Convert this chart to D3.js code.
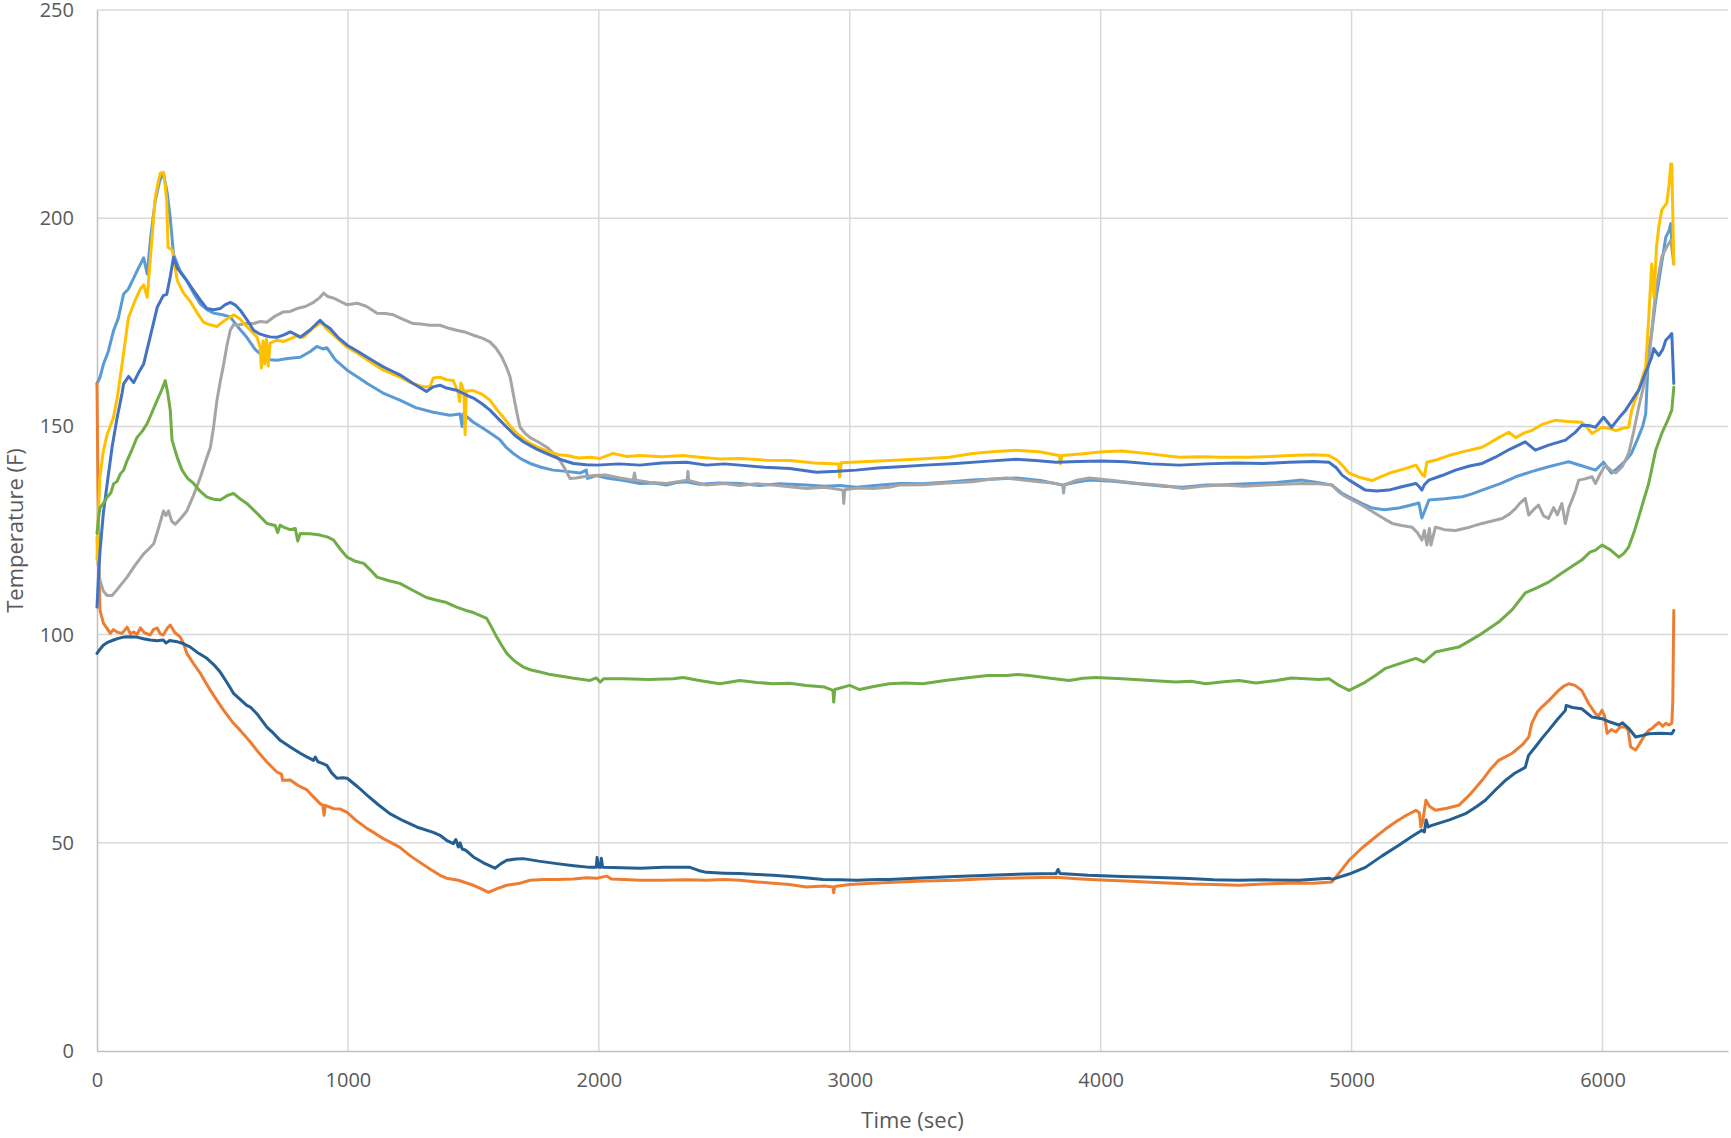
<!DOCTYPE html>
<html>
<head>
<meta charset="utf-8">
<script src="https://cdn.jsdelivr.net/npm/d3@7"></script>
<style>
  body { margin: 0; background: #fff; }
  svg text { font-family: "Open Sans", "Noto Sans", sans-serif; fill: #595959; }
</style>
</head>
<body>
<div id="chart"></div>
<script>
// Data (time in sec, temperature in F)

var xTicks = [0, 1000, 2000, 3000, 4000, 5000, 6000];
var yTicks = [0, 50, 100, 150, 200, 250];

var lightBlue = [[0,160.3],[12,161.8],[26,165],[45,168],[66,173],[85,176],[106,181.8],[125,183],[146,185.6],[165,188],[186,190.5],[200,186.6],[215,196],[232,204.2],[250,209],[265,210.8],[280,206],[292,200],[305,191.3],[330,187.5],[358,185],[385,182],[412,179.4],[440,178],[465,177.2],[500,176.8],[531,176.3],[560,174],[597,171.4],[630,168.5],[664,166.7],[690,166],[717,165.9],[760,166.3],[810,166.6],[850,168],[876,169.2],[900,168.6],[916,168.9],[950,166],[997,163.5],[1040,161.8],[1077,160.3],[1140,158],[1207,156.3],[1270,154.5],[1340,153.4],[1406,152.7],[1447,153],[1455,150],[1460,153],[1500,151],[1540,149.5],[1570,148.3],[1606,146.8],[1630,145],[1659,143.5],[1690,142.2],[1726,141.1],[1770,140.2],[1818,139.5],[1870,139.2],[1925,138.8],[1950,139.5],[1955,137.5],[1990,138.2],[2031,137.6],[2100,137],[2164,136.3],[2220,136.4],[2270,135.9],[2310,136.5],[2349,136.7],[2400,136.1],[2480,136.4],[2562,136.3],[2640,135.8],[2720,136.2],[2827,135.9],[2900,135.6],[2960,135.8],[3026,135.4],[3100,135.8],[3198,136.3],[3290,136.2],[3380,136.6],[3489,137.1],[3560,137.3],[3663,137.6],[3760,137],[3849,135.9],[3900,136.6],[3955,137.1],[4050,136.8],[4150,136.2],[4250,135.6],[4327,135.4],[4420,135.9],[4485,135.9],[4580,136.2],[4700,136.5],[4803,137.1],[4870,136.5],[4922,135.9],[4962,133.9],[4990,133],[5040,131.5],[5082,130.4],[5130,130],[5188,130.4],[5230,131],[5268,131.6],[5280,128],[5290,129.5],[5308,132.3],[5370,132.6],[5441,133.1],[5480,133.8],[5520,134.7],[5590,136.2],[5654,137.9],[5720,139.2],[5785,140.3],[5830,141],[5865,141.5],[5920,140.5],[5972,139.5],[6004,141.4],[6020,140],[6036,138.8],[6060,140],[6092,141.8],[6115,143.5],[6140,147],[6160,150],[6172,153],[6184,168.3],[6195,172],[6212,180.3],[6230,187],[6252,195.4],[6265,197],[6272,198.7],[6276,193.9]];

var orange = [[0,160.3],[3,140],[8,115],[12,105.8],[26,102.7],[40,101.5],[53,100.3],[66,101.2],[80,100.6],[100,100.3],[120,101.8],[133,100.2],[146,100.6],[160,100.1],[173,101.6],[190,100.4],[212,99.9],[225,101.2],[240,101.6],[252,100.2],[264,99.9],[280,101.5],[292,102.3],[310,100.5],[332,99.4],[345,97.8],[358,95.5],[385,93],[412,90.7],[430,88.8],[452,86.6],[478,84.2],[505,81.8],[544,78.7],[571,77],[611,74.2],[645,71.6],[677,69.4],[717,67],[735,66.5],[740,65],[770,65.1],[800,63.8],[837,62.7],[860,61.2],[889,59.4],[900,59],[905,56.6],[910,59],[943,58.2],[970,58.1],[997,57.3],[1030,55.5],[1077,53.4],[1110,52.2],[1141,51],[1170,50.1],[1207,48.9],[1250,46.8],[1287,45.3],[1330,43.6],[1367,42.2],[1393,41.5],[1440,41],[1500,39.8],[1530,39],[1560,38.1],[1595,39],[1633,39.8],[1680,40.2],[1726,41],[1780,41.2],[1832,41.2],[1900,41.3],[1950,41.6],[1992,41.5],[2031,42],[2050,41.3],[2100,41.2],[2164,41],[2250,41],[2350,41.1],[2429,41],[2500,41.2],[2562,41],[2630,40.6],[2695,40.3],[2760,40],[2827,39.4],[2900,39.6],[2933,39.4],[2936,38],[2940,39.5],[3000,40],[3092,40.3],[3198,40.6],[3300,40.8],[3424,41],[3520,41.3],[3623,41.5],[3720,41.6],[3822,41.7],[3920,41.3],[4022,41],[4100,40.8],[4200,40.5],[4352,40.1],[4450,40],[4551,39.8],[4650,40.1],[4750,40.3],[4850,40.3],[4922,40.6],[4960,43.5],[4990,45.8],[5040,48.7],[5095,51.4],[5135,53.3],[5175,55],[5215,56.5],[5256,57.8],[5270,57.2],[5276,53.8],[5283,55],[5296,60.2],[5310,58.8],[5334,57.8],[5380,58.3],[5427,59],[5470,61.5],[5520,65],[5550,67.4],[5586,69.8],[5640,71.5],[5680,73.5],[5706,75.4],[5718,78.7],[5740,81.4],[5758,82.6],[5790,84.4],[5825,86.6],[5845,87.6],[5865,88.2],[5890,87.8],[5917,86.6],[5945,83.4],[5972,81],[5985,80.5],[5998,81.8],[6008,80.5],[6018,76.3],[6035,77.2],[6053,76.6],[6070,77.8],[6092,77.8],[6102,77],[6112,73],[6132,72.3],[6150,74],[6170,76],[6184,77],[6198,77.5],[6212,78.3],[6225,78.9],[6240,78],[6252,78.7],[6265,78.3],[6276,78.7],[6280,84],[6284,105.8]];

var gray = [[0,123.4],[4,117],[12,113],[25,110.5],[40,109.4],[60,109.4],[80,110.8],[100,112.3],[120,113.8],[150,116.5],[186,119.4],[205,120.5],[226,121.8],[245,125.5],[265,129.7],[275,128.6],[285,129.7],[298,127.2],[312,126.5],[335,128],[358,129.7],[385,133.5],[412,137.8],[432,141.5],[452,145],[465,150],[478,156.3],[492,161],[505,165],[518,169.5],[531,173.1],[545,174.5],[558,174.3],[590,174.7],[624,174.7],[650,175.2],[677,175],[710,176.5],[743,177.5],[770,177.6],[797,178.3],[830,178.8],[863,179.8],[885,180.8],[903,182],[920,181.2],[943,180.8],[970,180],[997,179.2],[1037,179.6],[1075,178.8],[1116,177.2],[1150,177.1],[1181,176.8],[1220,175.7],[1260,174.7],[1290,174.6],[1327,174.3],[1367,174.3],[1406,173.5],[1433,173.1],[1470,172.6],[1500,171.9],[1535,171.2],[1566,170.3],[1590,168.8],[1613,166.7],[1630,164.5],[1646,161.9],[1656,158.8],[1666,155.5],[1676,152.5],[1686,149.8],[1705,148.4],[1726,147.3],[1760,146.2],[1793,145],[1820,143.5],[1845,141.8],[1865,139.8],[1885,137.5],[1910,137.6],[1938,137.9],[1980,138.2],[2031,138.3],[2085,137.6],[2137,137.1],[2142,138.8],[2147,137.1],[2200,136.6],[2270,136.3],[2320,136.8],[2352,137.1],[2355,139.2],[2358,137],[2429,135.9],[2500,136.3],[2560,135.8],[2630,136.2],[2695,135.9],[2760,135.5],[2827,135.1],[2900,135.4],[2973,134.7],[2976,131.5],[2980,134.8],[3030,135.2],[3092,135.1],[3158,135.4],[3198,135.9],[3290,136],[3390,136.4],[3489,136.7],[3560,137.3],[3623,137.6],[3690,137.1],[3755,136.7],[3810,136.4],[3849,135.9],[3852,134],[3856,136],[3900,137],[3955,137.6],[4050,137],[4150,136.3],[4250,135.8],[4327,135.1],[4400,135.6],[4485,135.9],[4570,135.6],[4680,136],[4803,136.3],[4870,136.2],[4922,135.9],[4950,134.2],[4977,133.1],[5029,131.5],[5060,130.4],[5095,129.1],[5130,127.8],[5162,126.7],[5200,126.2],[5241,125.8],[5262,124.5],[5280,122.7],[5290,125],[5300,121.5],[5310,125.5],[5316,121.5],[5334,125.8],[5370,125.2],[5414,125],[5470,125.8],[5520,126.7],[5560,127.3],[5600,127.9],[5630,129],[5654,130.3],[5670,131.5],[5692,132.7],[5706,128.7],[5725,130],[5745,131.1],[5765,128.5],[5785,127.9],[5805,130.5],[5820,128.8],[5838,131.5],[5852,126.7],[5866,130.5],[5878,132.3],[5892,134.5],[5905,137.1],[5930,137.4],[5958,137.9],[5972,136.3],[5990,138.5],[6011,140.7],[6030,139.6],[6053,138.8],[6078,140.3],[6104,143.5],[6125,149],[6144,154.6],[6165,160],[6184,165.2],[6198,174],[6212,182.7],[6236,190.7],[6255,193],[6272,194.7],[6284,189]];

var yellow = [[0,118],[6,130],[12,138],[25,144],[40,148],[65,152],[81,157],[100,165],[125,176],[150,180],[173,183],[186,184],[200,181],[215,192],[232,205],[245,209],[252,210.8],[265,211],[272,208],[278,204],[283,193],[300,192.3],[320,185],[345,182],[372,180],[400,177.2],[425,175],[450,174.4],[478,174],[510,175.5],[545,176.8],[570,175.8],[597,174],[638,171.4],[650,169],[655,164],[662,170.5],[668,165],[675,171],[682,164.5],[690,170],[717,170.7],[745,170.4],[770,171],[800,171.8],[823,171.4],[860,173.6],[896,175],[915,173.4],[929,172.7],[960,171],[997,169],[1040,167.5],[1077,166],[1110,164.7],[1141,163.5],[1175,162.7],[1207,161.8],[1250,160.5],[1300,159.5],[1327,159.5],[1340,161.6],[1367,161.8],[1393,161.2],[1420,161],[1440,158],[1445,156],[1450,160.4],[1462,158.5],[1467,148],[1472,158.5],[1500,158.6],[1535,157.7],[1566,156.3],[1590,154.3],[1619,152.2],[1645,150.2],[1674,148.3],[1700,147],[1726,145.9],[1765,144.8],[1806,143.8],[1840,143.2],[1873,143],[1920,142.4],[1965,142.6],[2005,142.3],[2057,143.5],[2110,142.8],[2164,143],[2250,142.7],[2335,143],[2400,142.6],[2480,142.2],[2562,142.3],[2660,141.9],[2761,141.8],[2860,141.2],[2955,141],[2960,137.8],[2966,141.3],[3050,141.5],[3158,141.8],[3280,142.2],[3397,142.6],[3489,143.5],[3580,144],[3663,144.3],[3755,143.9],[3835,143],[3840,141],[3845,143],[3920,143.4],[4006,143.9],[4086,144.1],[4200,143.4],[4313,142.6],[4400,142.7],[4485,142.6],[4591,142.6],[4680,142.8],[4750,143],[4850,143.2],[4910,143],[4940,142],[4962,140.7],[4990,138.8],[5030,137.8],[5082,137],[5120,138],[5162,139],[5210,139.8],[5256,140.7],[5283,138.3],[5290,138],[5300,141.4],[5340,142],[5387,143],[5450,144],[5520,145],[5550,146],[5586,147.3],[5626,148.6],[5654,147.3],[5690,148.5],[5718,149],[5760,150.5],[5813,151.5],[5860,151.2],[5917,151],[5940,149.6],[5958,148.3],[5998,149.8],[6030,149.5],[6053,149],[6078,149.5],[6104,149.8],[6116,153.9],[6144,158.7],[6160,162],[6172,164.3],[6184,176],[6196,189],[6205,181],[6215,193],[6224,197.8],[6236,202],[6256,203.6],[6265,208],[6272,213],[6276,213],[6284,189]];

var blue = [[0,106.6],[6,114],[12,120],[25,129],[40,136],[60,145],[80,152],[100,158],[106,160.2],[126,162],[146,160.5],[165,162.8],[186,165],[210,171],[240,178.6],[264,181.4],[278,181.7],[292,186],[305,190.6],[320,188],[340,186.4],[358,185],[385,182.6],[412,180.3],[438,178.3],[465,178],[491,178.3],[510,179.2],[531,179.8],[550,179.2],[571,177.9],[600,175.4],[624,173.1],[645,172.3],[664,171.9],[690,171.5],[717,171.4],[745,172],[770,172.7],[790,172.1],[810,171.4],[850,173.2],[889,175.5],[905,174.5],[929,173.5],[960,171.4],[997,169.5],[1040,168],[1077,166.6],[1110,165.4],[1141,164.3],[1175,163.3],[1207,162.4],[1260,160.3],[1313,158.4],[1340,159.5],[1367,159.9],[1393,159.2],[1433,158.7],[1470,157.6],[1500,156.8],[1533,155.5],[1566,153.9],[1600,151.8],[1633,149.8],[1666,147.8],[1699,146.3],[1750,144.6],[1806,143.1],[1850,142],[1899,141.1],[1950,140.8],[1992,140.7],[2080,141],[2164,140.7],[2250,141.2],[2349,141.4],[2429,140.7],[2500,141],[2562,140.7],[2660,140.2],[2761,139.9],[2867,139],[2950,139.2],[3026,139.5],[3110,140],[3198,140.3],[3300,140.7],[3424,141.1],[3540,141.6],[3663,142.1],[3740,141.8],[3822,141.4],[3910,141.6],[4006,141.7],[4100,141.5],[4200,141],[4313,140.7],[4420,141],[4540,141.2],[4650,141.1],[4750,141.4],[4850,141.6],[4910,141.4],[4940,140],[4962,138.3],[4990,137.1],[5055,134.7],[5100,134.5],[5148,134.7],[5200,135.5],[5256,136.3],[5270,135.5],[5280,134.7],[5290,136],[5308,137.1],[5360,138.2],[5414,139.5],[5470,140.5],[5520,141.1],[5573,142.6],[5630,144.5],[5692,146.3],[5732,144.3],[5785,145.5],[5852,146.7],[5890,148.5],[5917,150.3],[5945,150.2],[5972,149.8],[6004,152.2],[6036,149.8],[6065,152],[6092,153.9],[6120,156.5],[6144,158.7],[6172,163],[6196,166.6],[6204,168.7],[6224,167],[6240,168.5],[6252,170.7],[6265,171.5],[6276,172.3],[6284,160.3]];

var green = [[0,124.3],[6,128],[12,130.5],[25,131.5],[40,133],[55,134],[66,136.2],[80,136.8],[93,138.6],[106,139.5],[120,141.8],[140,144.5],[159,147.3],[180,148.8],[200,150.7],[220,153.5],[240,156.3],[256,158.5],[272,161],[282,158],[292,153.9],[299,146.7],[320,142.5],[339,139.5],[360,137.6],[385,136.3],[410,134.5],[438,133],[465,132.5],[491,132.3],[520,133.4],[544,133.9],[570,132.6],[597,131.5],[640,129],[677,126.7],[710,126.2],[720,124.5],[730,126.3],[743,125.8],[770,125.2],[790,125.5],[800,122.5],[810,124.3],[850,124.2],[889,123.9],[920,123.4],[943,122.7],[970,120.5],[997,118.6],[1030,117.6],[1063,117.1],[1090,115.5],[1116,113.8],[1160,113],[1207,112.3],[1260,110.6],[1313,108.9],[1350,108.3],[1393,107.7],[1433,106.6],[1470,105.8],[1500,105.3],[1553,103.9],[1575,101.5],[1593,99.4],[1615,97.2],[1633,95.5],[1665,93.6],[1699,92.2],[1730,91.5],[1766,91],[1800,90.5],[1832,90.2],[1900,89.5],[1965,89],[1990,89.6],[2005,88.6],[2020,89.4],[2097,89.4],[2200,89.2],[2296,89.4],[2336,89.7],[2400,89],[2482,88.2],[2562,89],[2630,88.5],[2695,88.2],[2760,88.3],[2827,87.8],[2900,87.4],[2933,86.6],[2936,83.8],[2940,86.8],[3000,87.8],[3039,86.8],[3100,87.6],[3158,88.2],[3220,88.4],[3291,88.2],[3380,89],[3478,89.7],[3550,90.2],[3623,90.2],[3670,90.4],[3715,90.2],[3800,89.5],[3874,89],[3930,89.5],[3981,89.7],[4086,89.4],[4200,89],[4299,88.6],[4360,88.8],[4419,88.2],[4480,88.6],[4551,89],[4619,88.4],[4700,89],[4760,89.6],[4818,89.4],[4870,89.2],[4910,89.4],[4950,87.8],[4990,86.6],[5020,87.5],[5055,88.6],[5095,90.2],[5135,91.9],[5200,93.2],[5256,94.3],[5288,93.4],[5334,95.8],[5380,96.4],[5427,97],[5470,98.5],[5520,100.3],[5586,103],[5640,106],[5692,110],[5740,111.3],[5785,112.6],[5850,115.3],[5917,117.9],[5950,119.8],[5972,120.3],[5998,121.5],[6030,120.4],[6065,118.6],[6085,119.5],[6104,121],[6125,124.5],[6144,128.2],[6165,132.5],[6184,136.3],[6212,144.3],[6236,148.3],[6260,151.5],[6276,153.9],[6284,159.4]];

var darkBlue = [[0,95.5],[12,96.5],[26,97.5],[45,98.2],[66,98.7],[85,99.1],[106,99.4],[130,99.5],[159,99.4],[185,99],[212,98.7],[240,98.5],[264,98.7],[275,98],[290,98.6],[319,98.3],[345,97.8],[372,97],[405,95.5],[438,94.3],[465,92.8],[491,91],[518,88.5],[544,85.9],[575,84.2],[597,83],[611,82.6],[640,80.8],[677,77.8],[705,76.2],[730,74.6],[770,73],[810,71.5],[840,70.5],[863,69.8],[870,70.6],[880,69.5],[900,69],[916,68.6],[935,66.8],[956,65.5],[980,65.6],[997,65.5],[1040,63.4],[1077,61.4],[1120,59.2],[1167,57],[1220,55.3],[1274,53.8],[1340,52.5],[1367,51.8],[1393,50.6],[1420,49.8],[1430,50.8],[1440,49],[1447,50],[1455,48.5],[1470,48.2],[1500,46.6],[1540,45.2],[1586,43.9],[1610,45],[1633,45.8],[1670,46.1],[1699,46.2],[1760,45.6],[1832,45],[1900,44.5],[1965,44.1],[1990,44.1],[1993,46.5],[1997,44.3],[2005,44.1],[2010,46.3],[2015,44.1],[2090,44],[2164,43.9],[2260,44.1],[2363,44.1],[2400,43.3],[2429,42.9],[2500,42.7],[2562,42.6],[2630,42.4],[2695,42.2],[2800,41.7],[2894,41.2],[2960,41.1],[3026,41],[3110,41.2],[3158,41.2],[3300,41.6],[3420,41.9],[3557,42.2],[3700,42.5],[3822,42.6],[3830,43.6],[3838,42.6],[3950,42.2],[4086,41.9],[4200,41.7],[4352,41.4],[4450,41.1],[4551,41],[4650,41.1],[4790,41],[4910,41.5],[4922,41.2],[4990,42.5],[5055,44.1],[5120,46.8],[5188,49.4],[5240,51.5],[5280,53],[5290,52.6],[5297,55.5],[5305,53.8],[5320,54.2],[5390,55.5],[5454,57],[5500,58.8],[5533,60.2],[5570,62.5],[5613,65],[5650,66.7],[5692,68.1],[5705,71],[5732,73],[5760,75.2],[5785,77],[5820,79.6],[5852,81.8],[5855,83],[5880,82.5],[5917,82.2],[5958,80.2],[5998,79.8],[6030,79],[6065,78.3],[6080,78.8],[6104,77.5],[6132,75.4],[6160,75.8],[6184,76.2],[6230,76.3],[6276,76.2],[6284,77]];

// drawing order, bottom to top
var seriesList = [lightBlue, orange, gray, yellow, blue, green, darkBlue];
var seriesColors = ['#5B9BD5', '#ED7D31', '#A5A5A5', '#FFC000', '#4472C4', '#70AD47', '#255E91'];

// SVG
var width = 1731,
    height = 1138;
var margin = { top: 10, bottom: 87, left: 97, right: 3 };

var svg = d3.select('#chart')
  .append('svg')
  .attr('width', width)
  .attr('height', height);

// Scales
var xScale = d3.scaleLinear()
  .domain([0, 6500])
  .range([margin.left, width - margin.right]);

var yScale = d3.scaleLinear()
  .domain([0, 250])
  .range([height - margin.bottom, margin.top]);

// Gridlines
svg.append('g')
  .selectAll('line')
  .data(yTicks.filter(function(d) { return d > 0; }))
  .enter().append('line')
  .attr('x1', margin.left).attr('x2', width - margin.right)
  .attr('y1', function(d) { return yScale(d); })
  .attr('y2', function(d) { return yScale(d); })
  .attr('stroke', '#d9d9d9').attr('stroke-width', 1.5);

svg.append('g')
  .selectAll('line')
  .data(xTicks.filter(function(d) { return d > 0; }))
  .enter().append('line')
  .attr('y1', margin.top).attr('y2', height - margin.bottom)
  .attr('x1', function(d) { return xScale(d); })
  .attr('x2', function(d) { return xScale(d); })
  .attr('stroke', '#d9d9d9').attr('stroke-width', 1.5);

// Axes
var yAxis = svg.append('g')
  .attr('transform', 'translate(' + margin.left + ',0)')
  .call(d3.axisLeft(yScale).tickValues(yTicks).tickSize(0).tickPadding(23));

var xAxis = svg.append('g')
  .attr('transform', 'translate(0,' + (height - margin.bottom) + ')')
  .call(d3.axisBottom(xScale).tickValues(xTicks).tickSize(0).tickPadding(22).tickFormat(d3.format('d')));

[xAxis, yAxis].forEach(function(ax) {
  ax.select('.domain').attr('stroke', '#bfbfbf').attr('stroke-width', 1.5);
  ax.selectAll('text')
    .style('font-family', '"Open Sans", sans-serif')
    .style('font-size', '20px')
    .attr('fill', '#595959');
});

// Axis titles
svg.append('text')
  .attr('x', (margin.left + width - margin.right) / 2)
  .attr('y', 1128)
  .attr('text-anchor', 'middle')
  .style('font-size', '22px')
  .text('Time (sec)');

svg.append('text')
  .attr('transform', 'translate(23,' + ((margin.top + height - margin.bottom) / 2) + ') rotate(-90)')
  .attr('text-anchor', 'middle')
  .style('font-size', '22px')
  .text('Temperature (F)');

// Lines
var line = d3.line()
  .x(function(d) { return xScale(d[0]); })
  .y(function(d) { return yScale(d[1]); });

svg.append('g')
  .selectAll('path')
  .data(seriesList)
  .enter().append('path')
  .attr('d', line)
  .attr('fill', 'none')
  .attr('stroke', function(d, i) { return seriesColors[i]; })
  .attr('stroke-width', 3)
  .attr('stroke-linejoin', 'round')
  .attr('stroke-linecap', 'round');
</script>
</body>
</html>
